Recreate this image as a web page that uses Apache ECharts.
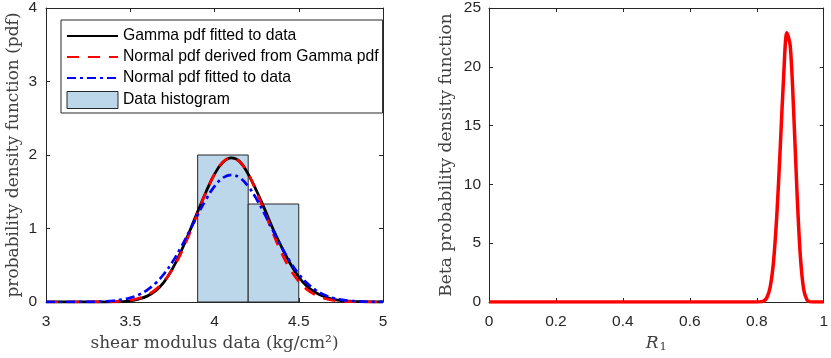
<!DOCTYPE html>
<html>
<head>
<meta charset="utf-8">
<script src="https://cdn.jsdelivr.net/npm/echarts@6/dist/echarts.min.js"></script>
<style>
  html, body { margin: 0; padding: 0; background: #fff; }
  #chart { width: 831px; height: 358px; }
</style>
</head>
<body>
<div id="chart"></div>
<script>
// shear modulus grid (kg/cm^2)
const shearX = [3.0, 3.05, 3.1, 3.15, 3.2, 3.25, 3.3, 3.35, 3.4, 3.45, 3.5, 3.55, 3.6, 3.65, 3.7, 3.75, 3.8, 3.85, 3.9, 3.95,
  4.0, 4.05, 4.1, 4.15, 4.2, 4.25, 4.3, 4.35, 4.4, 4.45, 4.5, 4.55, 4.6, 4.65, 4.7, 4.75, 4.8, 4.85, 4.9, 4.95, 5.0];

// pdf values
const gammaPdf = [0, 0, 0, 0, 0, 0, 0, 0, 0.001, 0.005, 0.015, 0.04, 0.08, 0.15, 0.27, 0.45, 0.68, 0.95, 1.23, 1.50,
  1.74, 1.90, 1.96, 1.91, 1.74, 1.51, 1.25, 0.98, 0.74, 0.52, 0.34, 0.21, 0.13, 0.075, 0.04, 0.02, 0.01, 0.004, 0.001, 0, 0];
const normalDerivedPdf = [0, 0, 0, 0, 0, 0, 0.001, 0.002, 0.005, 0.012, 0.025, 0.05, 0.095, 0.168, 0.282, 0.444, 0.659, 0.92, 1.209, 1.495,
  1.741, 1.906, 1.965, 1.906, 1.741, 1.495, 1.209, 0.92, 0.659, 0.444, 0.282, 0.168, 0.095, 0.05, 0.025, 0.012, 0.005, 0.002, 0.001, 0, 0];
const normalFittedPdf = [0, 0, 0.0001, 0.0003, 0.0008, 0.0018, 0.004, 0.0085, 0.017, 0.032, 0.058, 0.099, 0.163, 0.255, 0.381, 0.543, 0.739, 0.958, 1.185, 1.398,
  1.574, 1.690, 1.73, 1.690, 1.574, 1.398, 1.185, 0.958, 0.739, 0.543, 0.381, 0.255, 0.163, 0.099, 0.058, 0.032, 0.017, 0.0085, 0.004, 0.0018, 0.0008];

// histogram bins
const binEdges = [3.9, 4.2, 4.5];
const binHeights = [2.0, 1.3333];

// Beta pdf of R1
const r1X = [0, 0.1, 0.2, 0.3, 0.4, 0.5, 0.6, 0.7, 0.8, 0.81, 0.82, 0.83, 0.84, 0.85, 0.86, 0.87, 0.88, 0.89, 0.90,
  0.91, 0.92, 0.93, 0.94, 0.95, 0.96, 0.97, 1.0];
const betaPdf = [0, 0, 0, 0, 0, 0, 0, 0, 0, 0.01, 0.07, 0.35, 1.25, 3.4, 7.4, 13.0, 19.0, 22.9, 21.8,
  16.4, 9.5, 4.0, 1.1, 0.18, 0.01, 0, 0];

const leftTicksX = [3, 3.5, 4, 4.5, 5];
const leftTicksY = [0, 1, 2, 3, 4];
const rightTicksX = [0, 0.2, 0.4, 0.6, 0.8, 1];
const rightTicksY = [0, 5, 10, 15, 20, 25];

const axisColor = '#262626';
const sansFamily = 'Liberation Sans, Arial, sans-serif';
const serifFamily = 'DejaVu Serif, serif';
const tickFont = { color: axisColor, fontSize: 15.5, fontFamily: sansFamily };
const nameFont = { color: '#404040', fontSize: 17, fontFamily: serifFamily };

function pairs(xs, ys) {
    return xs.map((x, i) => [x, ys[i]]);
}

// ejes tipo caja: eje principal + espejo sin etiquetas
function boxAxes(gridIndex, ticks, isX, extra) {
    const min = ticks[0];
    const max = ticks[ticks.length - 1];
    const interval = ticks[1] - ticks[0];
    const base = {
        type: 'value', gridIndex: gridIndex, min: min, max: max, interval: interval,
        axisLine: { show: true, onZero: false, lineStyle: { color: axisColor, width: 1 } },
        axisTick: { show: true, inside: true, length: 4, lineStyle: { color: axisColor } },
        splitLine: { show: false }
    };
    const main = Object.assign({}, base, {
        position: isX ? 'bottom' : 'left',
        axisLabel: Object.assign({ margin: isX ? 12 : 9 }, tickFont)
    }, extra);
    const mirror = Object.assign({}, base, {
        position: isX ? 'top' : 'right',
        axisLabel: { show: false }
    });
    return [main, mirror];
}

const myChart = echarts.init(document.getElementById('chart'));

const leftX = boxAxes(0, leftTicksX, true, {
    name: 'shear modulus data (kg/cm²)', nameLocation: 'middle', nameGap: 30, nameTextStyle: nameFont
});
const leftY = boxAxes(0, leftTicksY, false, {
    name: 'probability density function (pdf)', nameLocation: 'middle', nameGap: 24, nameTextStyle: nameFont
});
const rightX = boxAxes(1, rightTicksX, true, {
    name: '{i|R}{s|1}', nameLocation: 'middle', nameGap: 30,
    nameTextStyle: Object.assign({}, nameFont, {
        rich: {
            i: Object.assign({}, nameFont, { fontStyle: 'italic' }),
            s: Object.assign({}, nameFont, { fontSize: 11.5, verticalAlign: 'bottom', padding: [7, 0, 0, 1] })
        }
    })
});
const rightY = boxAxes(1, rightTicksY, false, {
    name: 'Beta probability density function', nameLocation: 'middle', nameGap: 34, nameTextStyle: nameFont
});
rightY[0].axisLabel.margin = 8;

const histStyle = { color: '#bdd7ea', borderColor: axisColor, borderWidth: 1 };
// la leyenda de las líneas no debe mostrar el círculo del símbolo
const hiddenSymbol = { color: 'rgba(0,0,0,0)', borderWidth: 0, opacity: 0 };

const option = {
    animation: false,
    backgroundColor: '#fff',
    grid: [
        { left: 46, top: 7, width: 337, height: 295 },
        { left: 489, top: 7, width: 337, height: 295 }
    ],
    xAxis: [leftX[0], leftX[1], rightX[0], rightX[1]],
    yAxis: [leftY[0], leftY[1], rightY[0], rightY[1]],
    legend: {
        orient: 'vertical',
        left: 61,
        top: 20,
        padding: [8, 4, 4, 5],
        itemWidth: 51,
        itemHeight: 17,
        itemGap: 5,
        backgroundColor: '#fff',
        borderColor: axisColor,
        borderWidth: 1,
        borderRadius: 0,
        textStyle: { color: '#000', fontSize: 15.75, fontFamily: sansFamily },
        data: [
            { name: 'Gamma pdf fitted to data', itemStyle: hiddenSymbol },
            { name: 'Normal pdf derived from Gamma pdf', itemStyle: hiddenSymbol },
            { name: 'Normal pdf fitted to data', itemStyle: hiddenSymbol },
            { name: 'Data histogram', icon: 'rect', itemStyle: histStyle }
        ]
    },
    series: [
        {
            name: 'Data histogram',
            type: 'custom',
            xAxisIndex: 0, yAxisIndex: 0,
            z: 1,
            itemStyle: histStyle,
            data: binHeights.map((h, i) => [binEdges[i], binEdges[i + 1], h]),
            renderItem: function (params, api) {
                const p0 = api.coord([api.value(0), 0]);
                const p1 = api.coord([api.value(1), api.value(2)]);
                return {
                    type: 'rect',
                    shape: { x: p0[0], y: p1[1], width: p1[0] - p0[0], height: p0[1] - p1[1] },
                    style: { fill: histStyle.color, stroke: histStyle.borderColor, lineWidth: 1 }
                };
            }
        },
        {
            name: 'Gamma pdf fitted to data',
            type: 'line', xAxisIndex: 0, yAxisIndex: 0, z: 3,
            data: pairs(shearX, gammaPdf),
            symbol: 'none', smooth: 0.4,
            itemStyle: { color: '#000' },
            lineStyle: { color: '#000', width: 2.8 }
        },
        {
            name: 'Normal pdf derived from Gamma pdf',
            type: 'line', xAxisIndex: 0, yAxisIndex: 0, z: 4,
            data: pairs(shearX, normalDerivedPdf),
            symbol: 'none', smooth: 0.4,
            itemStyle: { color: '#ff0000' },
            lineStyle: { color: '#ff0000', width: 2.7, type: [12, 9] }
        },
        {
            name: 'Normal pdf fitted to data',
            type: 'line', xAxisIndex: 0, yAxisIndex: 0, z: 5,
            data: pairs(shearX, normalFittedPdf),
            symbol: 'none', smooth: 0.4,
            itemStyle: { color: '#0000ff' },
            lineStyle: { color: '#0000ff', width: 2.7, type: [9, 4, 3, 4] }
        },
        {
            name: 'Beta pdf',
            type: 'line', xAxisIndex: 2, yAxisIndex: 2, z: 3,
            data: pairs(r1X, betaPdf),
            symbol: 'none', smooth: 0.3,
            lineStyle: { color: '#ff0000', width: 3.5 },
            itemStyle: { color: '#ff0000' }
        }
    ]
};

myChart.setOption(option);
window.addEventListener('resize', () => myChart.resize());
</script>
</body>
</html>
